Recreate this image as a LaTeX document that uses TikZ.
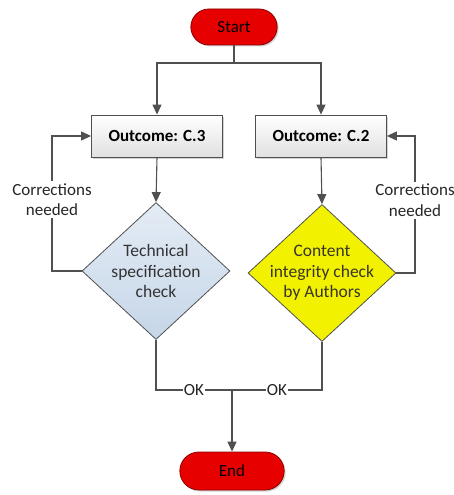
\documentclass[tikz,border=0pt]{standalone}
\usepackage{fontspec}
\setmainfont{Carlito}
\usetikzlibrary{arrows.meta,shapes.geometric,shapes.misc,shadows}
\definecolor{lineg}{HTML}{505050}
\definecolor{termred}{HTML}{E60000}
\definecolor{termborder}{HTML}{8B0000}
\definecolor{yel}{HTML}{F2F200}
\definecolor{bluetop}{HTML}{E4ECF5}
\definecolor{bluebot}{HTML}{C6D6E8}
\tikzset{
  conn/.style={draw=lineg, line width=1.1pt},
  arr/.style={conn, -{Triangle[length=10pt,width=9pt]}},
  term/.style={rounded rectangle, draw=termborder, line width=0.8pt, fill=termred,
     minimum width=93pt, minimum height=36pt, font=\fontsize{17}{20}\selectfont,
     drop shadow={shadow xshift=1.5pt, shadow yshift=-1.5pt, opacity=0.35}},
  outbox/.style={rectangle, draw=lineg, line width=0.8pt, top color=white, bottom color=black!12,
     minimum width=131pt, minimum height=42pt, font=\bfseries\fontsize{17}{20}\selectfont,
     drop shadow={shadow xshift=1.5pt, shadow yshift=-1.5pt, opacity=0.35}},
  dec/.style={diamond, draw=lineg, line width=0.8pt, minimum width=148pt, minimum height=137pt,
     inner sep=-12pt, align=center, font=\fontsize{17.5}{20.5}\selectfont, aspect=1.08},
  lbl/.style={fill=white, inner sep=2pt, align=center, font=\fontsize{17}{20.5}\selectfont, text=black!85},
}
\begin{document}
\begin{tikzpicture}[x=1pt,y=-1pt]
\useasboundingbox (0,0) rectangle (454,495);
\node[term] (start) at (234,27) {Start};
\node[outbox] (c3) at (157,136) {Outcome: C.3};
\node[outbox] (c2) at (321,136) {Outcome: C.2};
\node[dec, top color=bluetop, bottom color=bluebot, text=black!80] (tech) at (156,271) {Technical\\specification\\check};
\node[dec, fill=yel, text=black!80!olive] (cont) at (322,273) {Content\\integrity check\\by Authors};
\node[term, minimum width=111pt, minimum height=38pt] (end) at (232,471) {End};
\coordinate (split) at (234,63);
\coordinate (merge) at (232,390);
\coordinate (lfb) at (52,271);
\coordinate (rfb) at (415,273);
% start to boxes
\draw[conn] (start.south) -- (split);
\draw[arr] (split) -| (c3.north);
\draw[arr] (split) -| (c2.north);
% boxes to diamonds
\draw[arr] (c3.south) -- (tech.north);
\draw[arr] (c2.south) -- (cont.north);
% feedback loops
\draw[arr] (tech.west) -- (lfb) |- (c3.west) node[pos=0.265, lbl] {Corrections\\needed};
\draw[arr] (cont.east) -- (rfb) |- (c2.east) node[pos=0.265, lbl] {Corrections\\needed};
% OK paths
\draw[conn] (tech.south) |- (merge) node[pos=0.75, lbl, inner sep=1pt] {OK};
\draw[conn] (cont.south) |- (merge) node[pos=0.75, lbl, inner sep=1pt] {OK};
\draw[arr] (merge) -- (end.north);
\end{tikzpicture}
\end{document}
